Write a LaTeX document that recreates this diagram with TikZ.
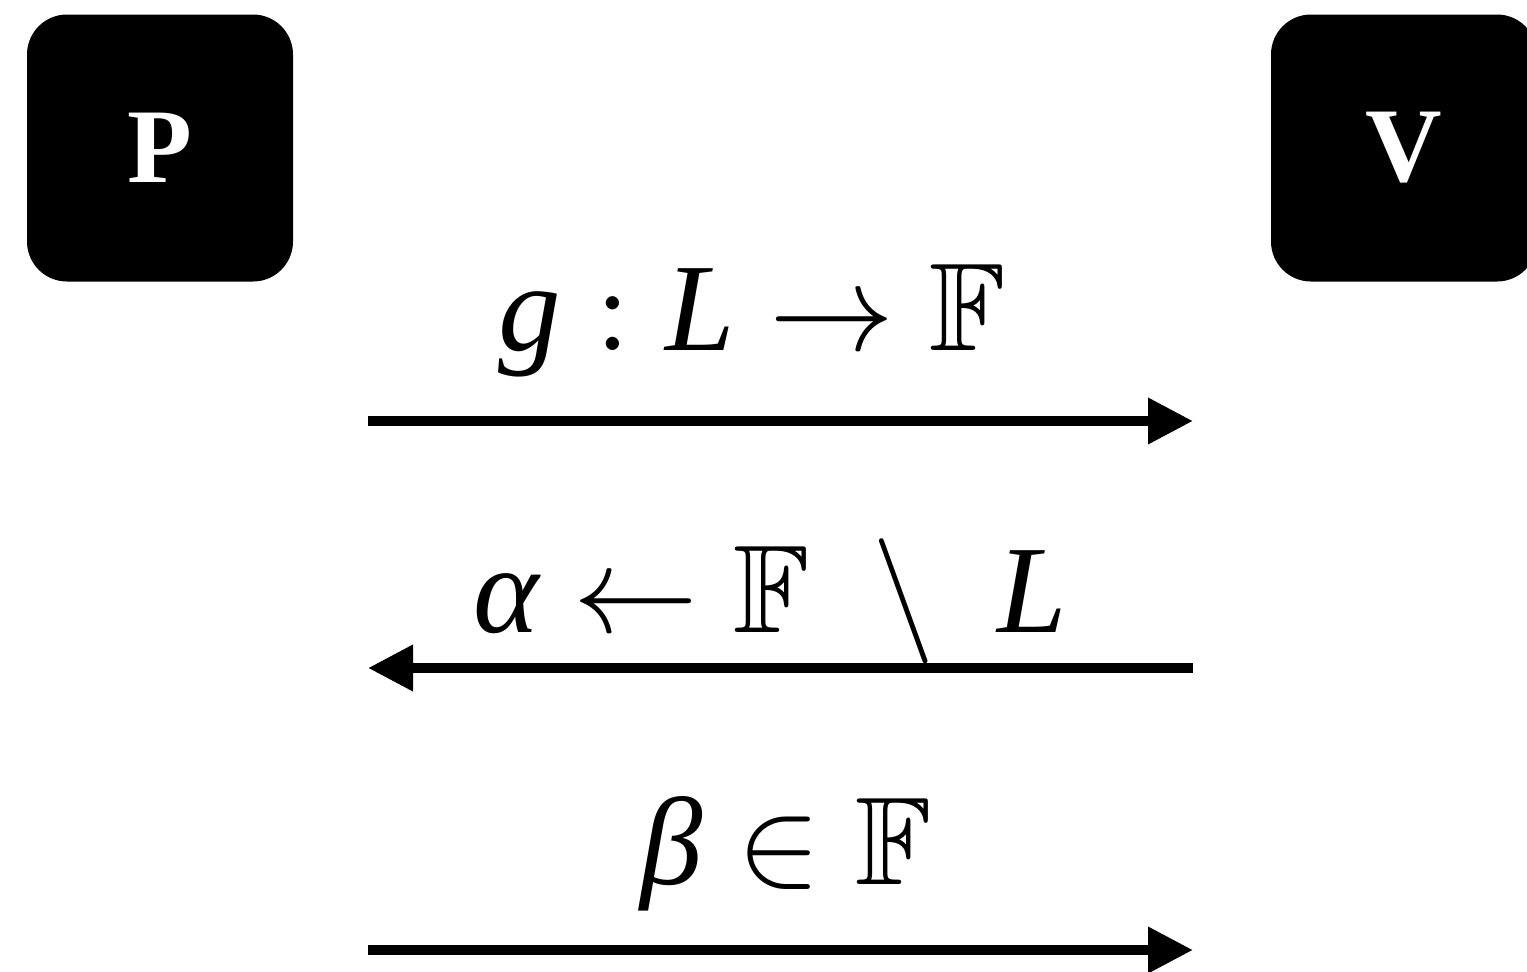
\documentclass[tikz,border=0pt]{standalone}
\usepackage{amssymb}
\DeclareFontShape{OMS}{cmsy}{m}{n}{<-> cmsy10}{}
\DeclareFontShape{OML}{cmm}{m}{it}{<-> cmmi10}{}
\DeclareFontShape{OT1}{cmr}{m}{n}{<-> cmr10}{}
\DeclareFontShape{OMX}{cmex}{m}{n}{<-> cmex10}{}
\DeclareFontFamily{U}{msb}{}
\DeclareFontShape{U}{msb}{m}{n}{<-> msbm10}{}
\usepackage{fontspec}
\setmainfont{Liberation Serif}
\usetikzlibrary{arrows.meta}
\newcommand{\vx}[1]{\mathord{\hbox{\itshape #1}}}
\tikzset{
  x=1pt, y=-1pt,
  party/.style={fill=black, rounded corners=40pt, minimum width=266pt, minimum height=267pt, inner sep=0pt, text=white, font=\fontsize{106}{106}\selectfont\bfseries},
  msg/.style={draw=black, line width=10pt, -{Triangle[length=45pt,width=44pt]}},
  lbl/.style={anchor=base, inner sep=0pt, font=\fontsize{125}{150}\selectfont}
}
\begin{document}
\begin{tikzpicture}
\useasboundingbox (0,0) rectangle (1527,972);
\begin{scope}
\clip (0,0) rectangle (1527,972);
\node[party] (P) at (160,148) {P};
\node[party] (V) at (1404,148) {V};
\end{scope}
\coordinate (a1s) at (368,421);
\coordinate (a1e) at (1193,421);
\coordinate (a2s) at (1193,668);
\coordinate (a2e) at (368,668);
\coordinate (a3s) at (368,950);
\coordinate (a3e) at (1193,950);
\draw[msg] (a1s) -- (a1e);
\draw[msg] (a2s) -- (a2e);
\draw[msg] (a3s) -- (a3e);
\node[lbl] (l1) at (752,350) {$\vx{g} : \vx{L} \rightarrow \mathbb{F}$};
\node[lbl] (l2) at (770,632) {$\vx{α} \leftarrow \mathbb{F} \;\setminus\; \vx{L}$};
\node[lbl] (l3) at (786,884) {$\vx{β} \in \mathbb{F}$};
\end{tikzpicture}
\end{document}
